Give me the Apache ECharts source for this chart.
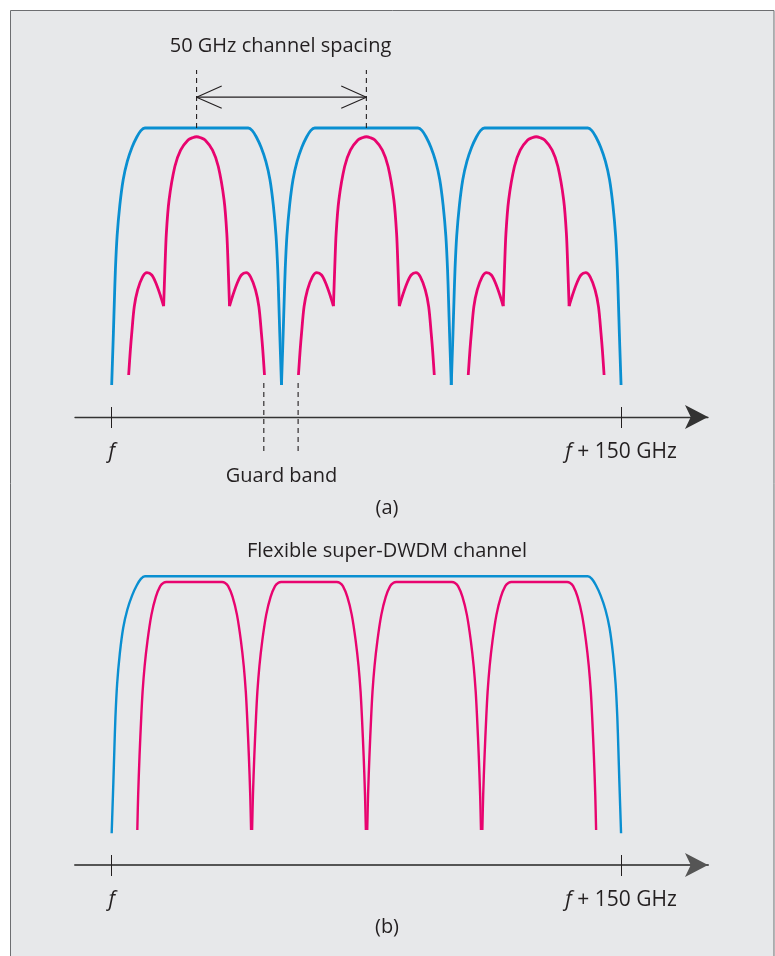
<!DOCTYPE html>
<html><head><meta charset="utf-8">
<script src="https://cdn.jsdelivr.net/npm/echarts@6/dist/echarts.min.js"></script>
<style>html,body{margin:0;padding:0;background:#fff}#c{width:775px;height:956px}</style>
</head><body><div id="c"></div>
<script>
// ===== DATA (x: GHz above f, y: relative power level) =====
// (a) fixed 50 GHz grid
const channelStartsA = [0, 50, 100];
const channelCentresA = [25, 75, 125];
// filter passband of one 50 GHz channel, offset from channel start
const filterA = [[0,0],[0.25,0.1],[0.5,0.2],[0.8,0.33],[1.1,0.45],[1.6,0.58],[2.4,0.7],[3.4,0.8],[4.6,0.87],[6.0,0.925],[7.4,0.965],[8.6,0.99],[9.8,1.0],
  [40.2,1.0],[41.4,0.99],[42.6,0.965],[44.0,0.925],[45.4,0.87],[46.6,0.8],[47.6,0.7],[48.4,0.58],[48.9,0.45],[49.2,0.33],[49.5,0.2],[49.75,0.1],[50,0]];
// signal spectrum of one channel, offset from channel centre
const sideLobeLeft = [[-20.0,0.039],[-19.5,0.136],[-19.1,0.2],[-18.35,0.305],[-17.35,0.37],[-15.9,0.421],[-14.6,0.437],[-13.2,0.428],[-11.95,0.396],[-10.7,0.35],[-9.7,0.307]];
const mainLobe = [[-9.7,0.307],[-9.3,0.46],[-8.9,0.59],[-8.1,0.72],[-6.4,0.85],[-4.7,0.914],[-2.5,0.953],[-1.2,0.962],[0,0.966],
  [1.2,0.962],[2.5,0.953],[4.7,0.914],[6.4,0.85],[8.1,0.72],[8.9,0.59],[9.3,0.46],[9.7,0.307]];
const sideLobeRight = [[9.7,0.307],[10.7,0.35],[11.95,0.396],[13.2,0.428],[14.6,0.437],[15.9,0.421],[17.35,0.37],[18.35,0.305],[19.1,0.2],[19.5,0.136],[20.0,0.039]];
const spacingMarks = [25, 75];
const guardMarks = [44.8, 54.9];

// (b) flexible super-channel
const superStartsB = [0];
const filterB = [[0,0],[0.25,0.1],[0.5,0.2],[0.8,0.33],[1.1,0.45],[1.6,0.58],[2.4,0.7],[3.4,0.8],[4.6,0.87],[6.0,0.925],[7.4,0.965],[8.6,0.99],[9.8,1.0],
  [140.2,1.0],[141.4,0.99],[142.6,0.965],[144.0,0.925],[145.4,0.87],[146.6,0.8],[147.6,0.7],[148.4,0.58],[148.9,0.45],[149.2,0.33],[149.5,0.2],[149.75,0.1],[150,0]];
const subCentresB = [24.3, 58.1, 92.0, 125.9];
const subChannelB = [[-16.75,0.013],[-16.5,0.15],[-16.1,0.3],[-15.6,0.45],[-15.2,0.55],[-14.6,0.65],[-13.75,0.75],[-12.6,0.85],[-11.3,0.92],[-10.0,0.962],[-9.0,0.975],[-8.2,0.978],
  [8.2,0.978],[9.0,0.975],[10.0,0.962],[11.3,0.92],[12.6,0.85],[13.75,0.75],[14.6,0.65],[15.2,0.55],[15.6,0.45],[16.1,0.3],[16.5,0.15],[16.75,0.013]];

// axis ticks & labels
const tickValues = [0, 150];
const tickLabels = ['f', 'f + 150 GHz'];
const texts = ['50 GHz channel spacing', 'Guard band', '(a)', 'Flexible super-DWDM channel', '(b)'];

// ===== LAYOUT / STYLE =====
const FONT = '"Open Sans", "Noto Sans", sans-serif';
const INK = '#231f20';
const BLUE = '#0a8fd1';
const MAG = '#e8046f';
const X_MIN = -10.8, X_MAX = 175.6;
const UNIT = 257;                 // px per level unit
const gridA = {top: 60, axisY: 417, zeroY: 385};
const gridB = {top: 560, axisY: 865, zeroY: 833.3};
const SPACING_LEVEL = 1.12, SPACING_DASH_TOP = 1.226;
const GUARD_TOP = 0.008, GUARD_BOTTOM = -0.257;
const HEAD_DX = 7.4, HEAD_DY = 0.043;

const shift = (arr, dx) => arr.map(p => [p[0] + dx, p[1]]);

function curve(xi, yi, data, color, width, extra) {
  return Object.assign({
    type: 'line', xAxisIndex: xi, yAxisIndex: yi, data: data, symbol: 'none',
    smooth: 0.3, silent: true, animation: false, z: 3,
    lineStyle: {color: color, width: width, cap: 'butt', join: 'round'}
  }, extra || {});
}
function dashed(xi, yi, data) {
  return curve(xi, yi, data, INK, 1.1, {smooth: false, clip: false, lineStyle: {color: INK, width: 1.1, type: [5, 4]}});
}
function solidInk(xi, yi, data) {
  return curve(xi, yi, data, INK, 1.1, {smooth: false, clip: false});
}

const series = [];
// panel (a)
channelStartsA.forEach(s => series.push(curve(0, 0, shift(filterA, s), BLUE, 2.8)));
channelCentresA.forEach(c => {
  series.push(curve(0, 0, shift(sideLobeLeft, c), MAG, 2.8));
  series.push(curve(0, 0, shift(mainLobe, c), MAG, 2.8));
  series.push(curve(0, 0, shift(sideLobeRight, c), MAG, 2.8));
});
spacingMarks.forEach(x => series.push(dashed(0, 0, [[x, 1.0], [x, SPACING_DASH_TOP]])));
series.push(solidInk(0, 0, [[spacingMarks[0], SPACING_LEVEL], [spacingMarks[1], SPACING_LEVEL]]));
series.push(solidInk(0, 0, [[spacingMarks[0] + HEAD_DX, SPACING_LEVEL + HEAD_DY], [spacingMarks[0], SPACING_LEVEL], [spacingMarks[0] + HEAD_DX, SPACING_LEVEL - HEAD_DY]]));
series.push(solidInk(0, 0, [[spacingMarks[1] - HEAD_DX, SPACING_LEVEL + HEAD_DY], [spacingMarks[1], SPACING_LEVEL], [spacingMarks[1] - HEAD_DX, SPACING_LEVEL - HEAD_DY]]));
guardMarks.forEach(x => series.push(dashed(0, 0, [[x, GUARD_TOP], [x, GUARD_BOTTOM]])));
// panel (b)
superStartsB.forEach(s => series.push(curve(2, 1, shift(filterB, s), BLUE, 2.4)));
subCentresB.forEach(c => series.push(curve(2, 1, shift(subChannelB, c), MAG, 2.4)));

function labelFmt(v) {
  const t = tickLabels[tickValues.indexOf(v)] || '';
  return t.replace(/^f/, '{i|f}').replace(/^(\{i\|f\})(.+)$/, '$1{n|$2}');
}
function mainX(gi, color, width) {
  return {
    type: 'value', gridIndex: gi, min: X_MIN, max: X_MAX, position: 'bottom',
    splitLine: {show: false},
    axisLine: {show: true, onZero: false, symbol: ['none', 'arrow'], symbolSize: [18, 23],
      lineStyle: {color: color, width: width}},
    axisTick: {show: true, customValues: tickValues, length: 11, lineStyle: {color: INK, width: 1}},
    axisLabel: {show: true, customValues: tickValues, margin: 35, verticalAlign: 'middle',
      formatter: labelFmt, color: INK, fontFamily: FONT, fontSize: 21,
      rich: {i: {fontStyle: 'italic', fontFamily: FONT, fontSize: 21, color: INK},
             n: {fontFamily: FONT, fontSize: 21, color: INK}}}
  };
}
function upperX(gi) {
  return {
    type: 'value', gridIndex: gi, min: X_MIN, max: X_MAX, position: 'bottom',
    splitLine: {show: false}, axisLine: {show: false, onZero: false},
    axisTick: {show: true, inside: true, customValues: tickValues, length: 10, lineStyle: {color: INK, width: 1}},
    axisLabel: {show: false}
  };
}
function gridOf(g) {
  return {left: 75, right: 67, top: g.top, height: g.axisY - g.top, containLabel: false, outerBoundsMode: 'none'};
}
function yOf(gi, g) {
  return {type: 'value', gridIndex: gi, show: false, min: -(g.axisY - g.zeroY) / UNIT, max: (g.zeroY - g.top) / UNIT};
}
function txt(t, x, y) {
  return {type: 'text', x: x, y: y, silent: true, z: 5,
    style: {text: t, font: '20px ' + FONT, fill: INK, align: 'center', verticalAlign: 'middle'}};
}

const chart = echarts.init(document.getElementById('c'), null, {renderer: 'canvas'});
chart.setOption({
  backgroundColor: '#ffffff',
  animation: false,
  grid: [gridOf(gridA), gridOf(gridB)],
  xAxis: [mainX(0, '#333333', 1.3), upperX(0), mainX(1, '#555555', 2), upperX(1)],
  yAxis: [yOf(0, gridA), yOf(1, gridB)],
  graphic: [
    {type: 'rect', silent: true, z: -10, shape: {x: 10.5, y: 10.5, width: 763.5, height: 1000},
      style: {fill: '#e7e8ea', stroke: '#6d6e71', lineWidth: 1}},
    txt(texts[0], 280.5, 46),
    txt(texts[1], 281.5, 476.5),
    txt(texts[2], 387, 508),
    txt(texts[3], 387, 551),
    txt(texts[4], 387, 927)
  ],
  series: series
});
</script></body></html>
